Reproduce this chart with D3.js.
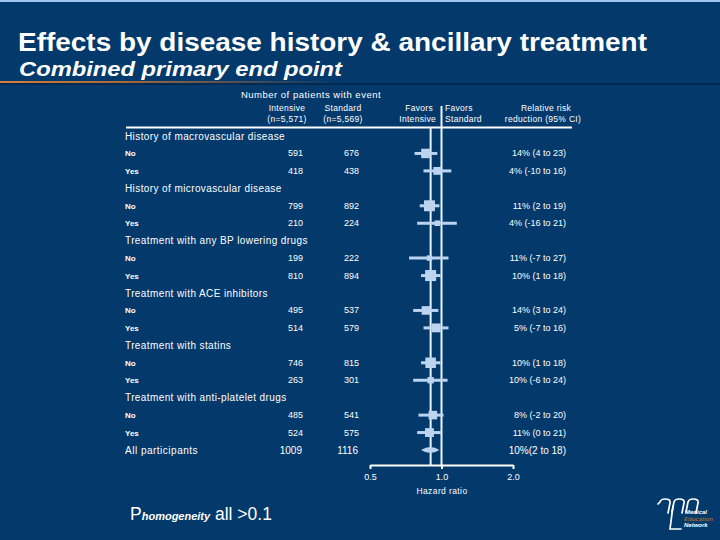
<!DOCTYPE html>
<html>
<head>
<meta charset="utf-8">
<script src="https://cdn.jsdelivr.net/npm/d3@7"></script>
<style>
  body { margin: 0; background: #03396b; }
  svg { display: block; font-family: "Liberation Sans", Arial, sans-serif; }
</style>
</head>
<body>
<svg id="chart" width="720" height="540"></svg>
<script>
// subgroup headings and rows
const groups = ["History of macrovascular disease", "History of microvascular disease",
  "Treatment with any BP lowering drugs", "Treatment with ACE inhibitors",
  "Treatment with statins", "Treatment with anti-platelet drugs"];
const subLabels = ["No", "Yes"];
const intensive = [591, 418, 799, 210, 199, 810, 495, 514, 746, 263, 485, 524];
const standard  = [676, 438, 892, 224, 222, 894, 537, 579, 815, 301, 541, 575];
const rrr   = [14, 4, 11, 4, 11, 10, 14, 5, 10, 10, 8, 11];
const rrrLo = [4, -10, 2, -16, -7, 1, 3, -7, 1, -6, -2, 0];
const rrrHi = [23, 16, 19, 21, 27, 18, 24, 16, 18, 24, 20, 21];
const rrrText = ["14% (4 to 23)", "4% (-10 to 16)", "11% (2 to 19)", "4% (-16 to 21)",
  "11% (-7 to 27)", "10%  (1 to 18)", "14% (3 to 24)", "5% (-7 to 16)",
  "10% (1 to 18)", "10%  (-6 to 24)", "8% (-2 to 20)", "11% (0 to 21)"];
const allRow = { intensive: 1009, standard: 1116, rrr: 10, lo: 2, hi: 18, text: "10%(2 to 18)" };
const xTicks = [0.5, 1.0, 2.0];

const svg = d3.select("#chart");
const fg = "#ffffff";
const ciCol = "#bcd4f0";

// top strip + title
svg.append("rect").attr("x", 0).attr("y", 0).attr("width", 720).attr("height", 2).attr("fill", "#9cc4ee");
svg.append("text").attr("x", 18).attr("y", 51).attr("fill", fg)
  .attr("font-size", 25).attr("font-weight", "bold")
  .attr("textLength", 629).attr("lengthAdjust", "spacingAndGlyphs")
  .text("Effects by disease history & ancillary treatment");
svg.append("text").attr("x", 19).attr("y", 76).attr("fill", fg)
  .attr("font-size", 20.5).attr("font-weight", "bold").attr("font-style", "italic")
  .attr("textLength", 323).attr("lengthAdjust", "spacingAndGlyphs")
  .text("Combined primary end point");

let grad = svg.append("defs").append("linearGradient").attr("id", "rule");
grad.append("stop").attr("offset", "0%").attr("stop-color", "#d08040");
grad.append("stop").attr("offset", "35%").attr("stop-color", "#a86a3a");
grad.append("stop").attr("offset", "100%").attr("stop-color", "#03396b");
svg.append("rect").attr("x", 0).attr("y", 81).attr("width", 340).attr("height", 2).attr("fill", "url(#rule)");
svg.append("rect").attr("x", 0).attr("y", 83).attr("width", 720).attr("height", 2).attr("fill", "#022a50");

// scales
const x = d3.scaleLog().domain([0.5, 2]).range([370, 513]);
const y = d3.scaleLinear().domain([0, 18]).range([136, 450]);
const boxSize = d3.scaleSqrt().domain([0, 1700]).range([0, 11]);

// column headers
const hdr = svg.append("g").attr("fill", fg).attr("font-size", 8.5).attr("letter-spacing", 0.3);
hdr.append("text").attr("x", 311).attr("y", 98).attr("text-anchor", "middle").attr("font-size", 9.5)
  .attr("letter-spacing", 0.5).text("Number of patients with event");
[["Intensive", "(n=5,571)", 287], ["Standard", "(n=5,569)", 343]].forEach(d => {
  hdr.append("text").attr("x", d[2]).attr("y", 111).attr("text-anchor", "middle").text(d[0]);
  hdr.append("text").attr("x", d[2]).attr("y", 122).attr("text-anchor", "middle").text(d[1]);
});
hdr.append("text").attr("x", 433).attr("y", 111).attr("text-anchor", "end").text("Favors");
hdr.append("text").attr("x", 436).attr("y", 122).attr("text-anchor", "end").text("Intensive");
hdr.append("text").attr("x", 445).attr("y", 111).text("Favors");
hdr.append("text").attr("x", 445).attr("y", 122).text("Standard");
hdr.append("text").attr("x", 546).attr("y", 111).attr("text-anchor", "middle").text("Relative risk");
hdr.append("text").attr("x", 543).attr("y", 122).attr("text-anchor", "middle").text("reduction (95% CI)");
svg.append("line").attr("x1", 126).attr("x2", 572).attr("y1", 127.5).attr("y2", 127.5)
  .attr("stroke", fg).attr("stroke-width", 2);

// reference lines
svg.append("line").attr("x1", x(1)).attr("x2", x(1)).attr("y1", 106).attr("y2", 465)
  .attr("stroke", "#e8f4ff").attr("stroke-width", 2);
svg.append("line").attr("x1", x(1 - allRow.rrr / 100)).attr("x2", x(1 - allRow.rrr / 100))
  .attr("y1", 127).attr("y2", 465).attr("stroke", "#e8f4ff").attr("stroke-width", 2);

// rows
const rows = svg.append("g");
groups.forEach((gName, gi) => {
  rows.append("text").attr("x", 125).attr("y", y(gi * 3) + 3.5).attr("fill", fg)
    .attr("font-size", 10).attr("letter-spacing", 0.4).text(gName);
  subLabels.forEach((s, si) => {
    const k = gi * 2 + si;
    const yy = y(gi * 3 + 1 + si);
    rows.append("text").attr("x", 125).attr("y", yy + 3).attr("fill", fg)
      .attr("font-size", 8).attr("font-weight", "bold").text(s);
    rows.append("text").attr("x", 303).attr("y", yy + 3).attr("fill", fg)
      .attr("font-size", 9).attr("text-anchor", "end").text(intensive[k]);
    rows.append("text").attr("x", 359).attr("y", yy + 3).attr("fill", fg)
      .attr("font-size", 9).attr("text-anchor", "end").text(standard[k]);
    rows.append("text").attr("x", 566).attr("y", yy + 3).attr("fill", fg)
      .attr("font-size", 9).attr("text-anchor", "end").text(rrrText[k]);
    rows.append("line")
      .attr("x1", x(1 - rrrHi[k] / 100)).attr("x2", x(1 - rrrLo[k] / 100))
      .attr("y1", yy).attr("y2", yy).attr("stroke", ciCol).attr("stroke-width", 3);
    const b = boxSize(intensive[k] + standard[k]);
    rows.append("rect").attr("x", x(1 - rrr[k] / 100) - b / 2).attr("y", yy - b / 2)
      .attr("width", b).attr("height", b).attr("fill", ciCol);
  });
});

// all participants
const ya = y(18);
rows.append("text").attr("x", 125).attr("y", ya + 3.5).attr("fill", fg).attr("font-size", 10)
  .attr("letter-spacing", 0.5).text("All participants");
rows.append("text").attr("x", 302).attr("y", ya + 3.5).attr("fill", fg).attr("font-size", 10)
  .attr("text-anchor", "end").text(allRow.intensive);
rows.append("text").attr("x", 358).attr("y", ya + 3.5).attr("fill", fg).attr("font-size", 10)
  .attr("text-anchor", "end").text(allRow.standard);
rows.append("text").attr("x", 566).attr("y", ya + 3.5).attr("fill", fg).attr("font-size", 10)
  .attr("text-anchor", "end").text(allRow.text);
const dx0 = x(1 - allRow.hi / 100), dx1 = x(1 - allRow.lo / 100), dxm = x(1 - allRow.rrr / 100);
rows.append("path")
  .attr("d", `M${dx0},${ya} Q${dxm},${ya - 6} ${dx1},${ya} Q${dxm},${ya + 6} ${dx0},${ya} Z`)
  .attr("fill", ciCol);

// axis
const axis = svg.append("g").attr("transform", "translate(0,465)")
  .call(d3.axisBottom(x).tickValues(xTicks).tickFormat(d3.format(".1f")).tickSize(4).tickSizeOuter(0));
axis.select(".domain").attr("stroke", fg).attr("stroke-width", 2);
axis.selectAll(".tick line").attr("stroke", fg).attr("stroke-width", 2);
axis.selectAll(".tick text").attr("fill", fg).attr("font-size", 9)
  .attr("font-family", "Liberation Sans, Arial").attr("dy", "0.9em");
svg.append("text").attr("x", 442).attr("y", 494).attr("text-anchor", "middle").attr("fill", fg)
  .attr("font-size", 8.5).attr("letter-spacing", 0.4).text("Hazard ratio");

// footnote
const foot = svg.append("text").attr("x", 130).attr("y", 520).attr("fill", fg).attr("font-size", 17.5);
foot.append("tspan").text("P");
foot.append("tspan").attr("font-size", 11).attr("font-style", "italic").attr("font-weight", "bold").text("homogeneity");
foot.append("tspan").text(" all >0.1");

// logo
const logo = svg.append("g").attr("fill", "none").attr("stroke", fg)
  .attr("stroke-width", 1.7).attr("stroke-linecap", "round");
[659, 673, 687].forEach((x0, i) => {
  const leftBottom = i === 0 ? 504 : 512;
  logo.append("path").attr("d",
    `M${x0 - 1},${leftBottom} L${x0 + 1},${502} Q${x0 + 2},${499} ${x0 + 6},${499} ` +
    `Q${x0 + 12},${499} ${x0 + 11},${503} L${x0 + 9},${513}`);
});
logo.append("path").attr("d", "M673,506 L670,529 L681,529");
const lt = svg.append("g").attr("font-size", 6).attr("font-weight", "bold").attr("font-style", "italic");
lt.append("text").attr("x", 685).attr("y", 514).attr("fill", fg).text("Medical");
lt.append("text").attr("x", 684).attr("y", 520.5).attr("fill", "#a0623a").text("Education");
lt.append("text").attr("x", 684).attr("y", 527).attr("fill", fg).text("Network");
</script>
</body>
</html>
